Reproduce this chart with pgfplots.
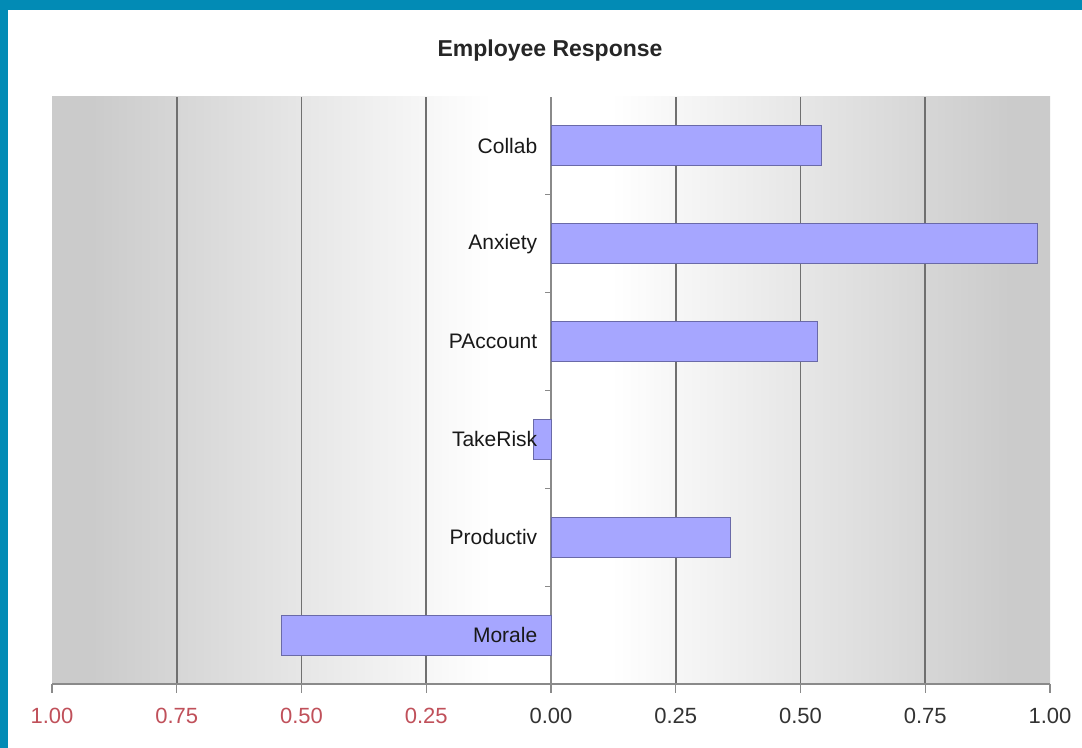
\documentclass[border=0pt]{standalone}
\usepackage{pgfplots}
\pgfplotsset{compat=1.18}
\usepackage{fontspec}
\setmainfont{Liberation Sans}
\definecolor{frameblue}{HTML}{028BB5}
\definecolor{barfill}{HTML}{A6A6FF}
\definecolor{baredge}{HTML}{6A6AA8}
\definecolor{gridgray}{HTML}{707070}
\definecolor{axisgray}{HTML}{8A8A8A}
\definecolor{negred}{HTML}{C0505A}
\definecolor{poslab}{HTML}{333333}
\definecolor{bgdark}{HTML}{CBCBCB}
\pgfdeclarehorizontalshading{plotbg}{100bp}{color(0bp)=(bgdark); color(27bp)=(bgdark); color(47bp)=(white); color(53bp)=(white); color(73bp)=(bgdark); color(100bp)=(bgdark)}
\pgfplotsset{
  commongeom/.style={
    at={(52bp,64bp)}, anchor=south west,
    width=998bp, height=587bp, scale only axis,
    xmin=-1, xmax=1, ymin=0.5, ymax=6.5,
    hide obscured x ticks=false, hide obscured y ticks=false,
  },
}
\begin{document}
\begin{tikzpicture}
\fill[white] (0,0) rectangle (1082bp,748bp);
\fill[frameblue] (0,0) rectangle (8bp,748bp);
\fill[frameblue] (0,738bp) rectangle (1082bp,748bp);
\node[anchor=base, font=\bfseries\fontsize{23bp}{27bp}\selectfont, text=black!85] at (550bp,691bp) {Employee Response};
% main axis: background, grid, bars, x ticks
\begin{axis}[
  commongeom,
  axis background/.style={shading=plotbg},
  axis x line=bottom, axis y line=middle,
  axis line style={axisgray, line width=1.2bp, -},
  xtick={-0.75,-0.5,-0.25,0,0.25,0.5,0.75},
  xticklabels={\textcolor{negred}{0.75},\textcolor{negred}{0.50},\textcolor{negred}{0.25},0.00,0.25,0.50,0.75},
  extra x ticks={-1,1},
  extra x tick labels={\textcolor{negred}{1.00},1.00},
  extra x tick style={grid=none},
  xticklabel style={font=\fontsize{22bp}{26bp}\selectfont, text=poslab, yshift=-12bp},
  ytick={1,2,3,4,5,6},
  yticklabels={},
  minor ytick={1.5,2.5,3.5,4.5,5.5},
  tick align=outside,
  major tick length=9bp,
  minor tick length=6bp,
  major x tick style={axisgray, line width=1.2bp},
  major y tick style={draw=none},
  minor y tick style={axisgray, line width=1bp},
  xmajorgrids=true, ymajorgrids=false,
  major grid style={gridgray, line width=1.6bp},
]
\addplot[xbar, bar width=0.41, fill=barfill, draw=baredge, line width=1bp]
  coordinates {(-0.540,1) (0.359,2) (-0.036,3) (0.535,4) (0.974,5) (0.543,6)};
\end{axis}
% overlay axis: category labels drawn on top of the bars
\begin{axis}[
  commongeom,
  axis x line=none, axis y line=middle,
  axis line style={draw=none},
  xtick=\empty,
  ytick={1,2,3,4,5,6},
  yticklabels={Morale,Productiv,TakeRisk,PAccount,Anxiety,Collab},
  yticklabel style={font=\fontsize{21bp}{25bp}\selectfont, text=black!90, xshift=-6bp},
  tick align=outside,
  major y tick style={draw=none},
]
\end{axis}
\end{tikzpicture}
\end{document}
